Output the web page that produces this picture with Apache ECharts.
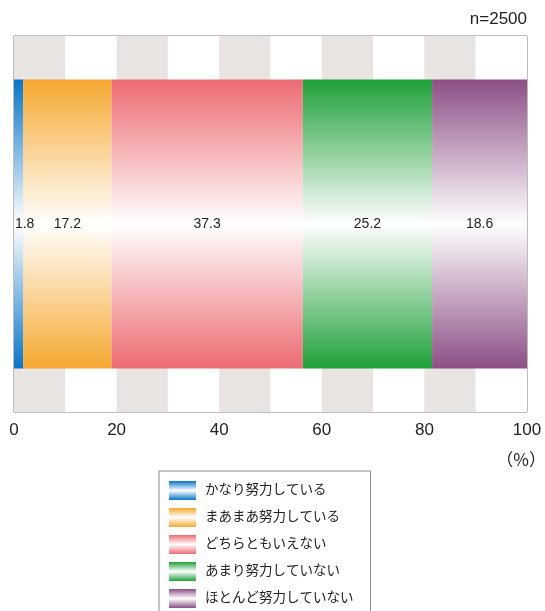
<!DOCTYPE html>
<html>
<head>
<meta charset="utf-8">
<script src="https://cdn.jsdelivr.net/npm/echarts@6/dist/echarts.min.js"></script>
<style>
  html, body { margin: 0; padding: 0; background: #fff; }
  #chart { width: 545px; height: 611px; }
</style>
</head>
<body>
<div id="chart"></div>
<script>
// Survey responses, share of respondents (%)
const categories = ['全体'];
const seriesNames = ['かなり努力している', 'まあまあ努力している', 'どちらともいえない', 'あまり努力していない', 'ほとんど努力していない'];
const seriesValues = [1.8, 17.2, 37.3, 25.2, 18.6];
const seriesColors = ['#0A74C4', '#F5A830', '#EC6B72', '#20A03A', '#8C4F85'];
const xTicks = [0, 20, 40, 60, 80, 100];
const sampleNote = 'n=2500';
const unitNote = '（%）';

const FONT = "'Liberation Sans', 'Noto Sans CJK JP', sans-serif";

// Vertical fade: solid at the top and bottom edges, white through the middle
function fade(color) {
  return new echarts.graphic.LinearGradient(0, 0, 0, 1, [
    { offset: 0, color: color },
    { offset: 0.5, color: '#FFFFFF' },
    { offset: 1, color: color }
  ]);
}

const labelOffsets = [[6, 0], [0, 0], [0, 0], [0, 0], [0, 0]];

const series = seriesNames.map((name, i) => ({
  name: name,
  type: 'bar',
  stack: 'total',
  barWidth: 289,
  data: [seriesValues[i]],
  itemStyle: { color: fade(seriesColors[i]) },
  label: {
    show: true,
    position: 'inside',
    offset: labelOffsets[i],
    color: '#222',
    fontFamily: FONT,
    fontSize: 14,
    formatter: (p) => p.value.toFixed(1)
  },
  emphasis: { disabled: true }
}));

const chart = echarts.init(document.getElementById('chart'), null, { renderer: 'canvas' });
chart.setOption({
  animation: false,
  backgroundColor: '#FFFFFF',
  title: [
    { text: sampleNote, right: 18, top: 11, padding: 0, textStyle: { fontFamily: FONT, fontSize: 17, fontWeight: 'normal', color: '#222' } },
    { text: unitNote, right: -1, top: 451, padding: 0, textStyle: { fontFamily: 'Noto Sans CJK JP', fontSize: 17, fontWeight: 'normal', color: '#222' } }
  ],
  grid: {
    left: 14, right: 18, top: 36, bottom: 199,
    show: true, borderColor: '#7A7A7A', borderWidth: 1, backgroundColor: 'transparent'
  },
  xAxis: {
    type: 'value',
    min: 0, max: 100, interval: 10,
    axisLine: { show: false },
    axisTick: { show: false },
    splitLine: { show: false },
    splitArea: { show: true, areaStyle: { color: ['#E8E4E2', '#FFFFFF'] } },
    axisLabel: {
      margin: 10,
      color: '#222',
      fontFamily: FONT,
      fontSize: 17,
      formatter: (v) => (xTicks.indexOf(v) >= 0 ? String(v) : '')
    }
  },
  yAxis: {
    type: 'category',
    data: categories,
    show: false
  },
  legend: {
    orient: 'vertical',
    left: 159, top: 471, height: 200,
    padding: [10, 17, 12, 10],
    borderColor: '#8A8A8A', borderWidth: 1,
    icon: 'rect',
    itemWidth: 27, itemHeight: 19, itemGap: 8,
    selectedMode: false,
    textStyle: { fontFamily: FONT, fontSize: 13.5, color: '#222', padding: [0, 0, 0, 4] },
    data: seriesNames
  },
  series: series
});
</script>
</body>
</html>
